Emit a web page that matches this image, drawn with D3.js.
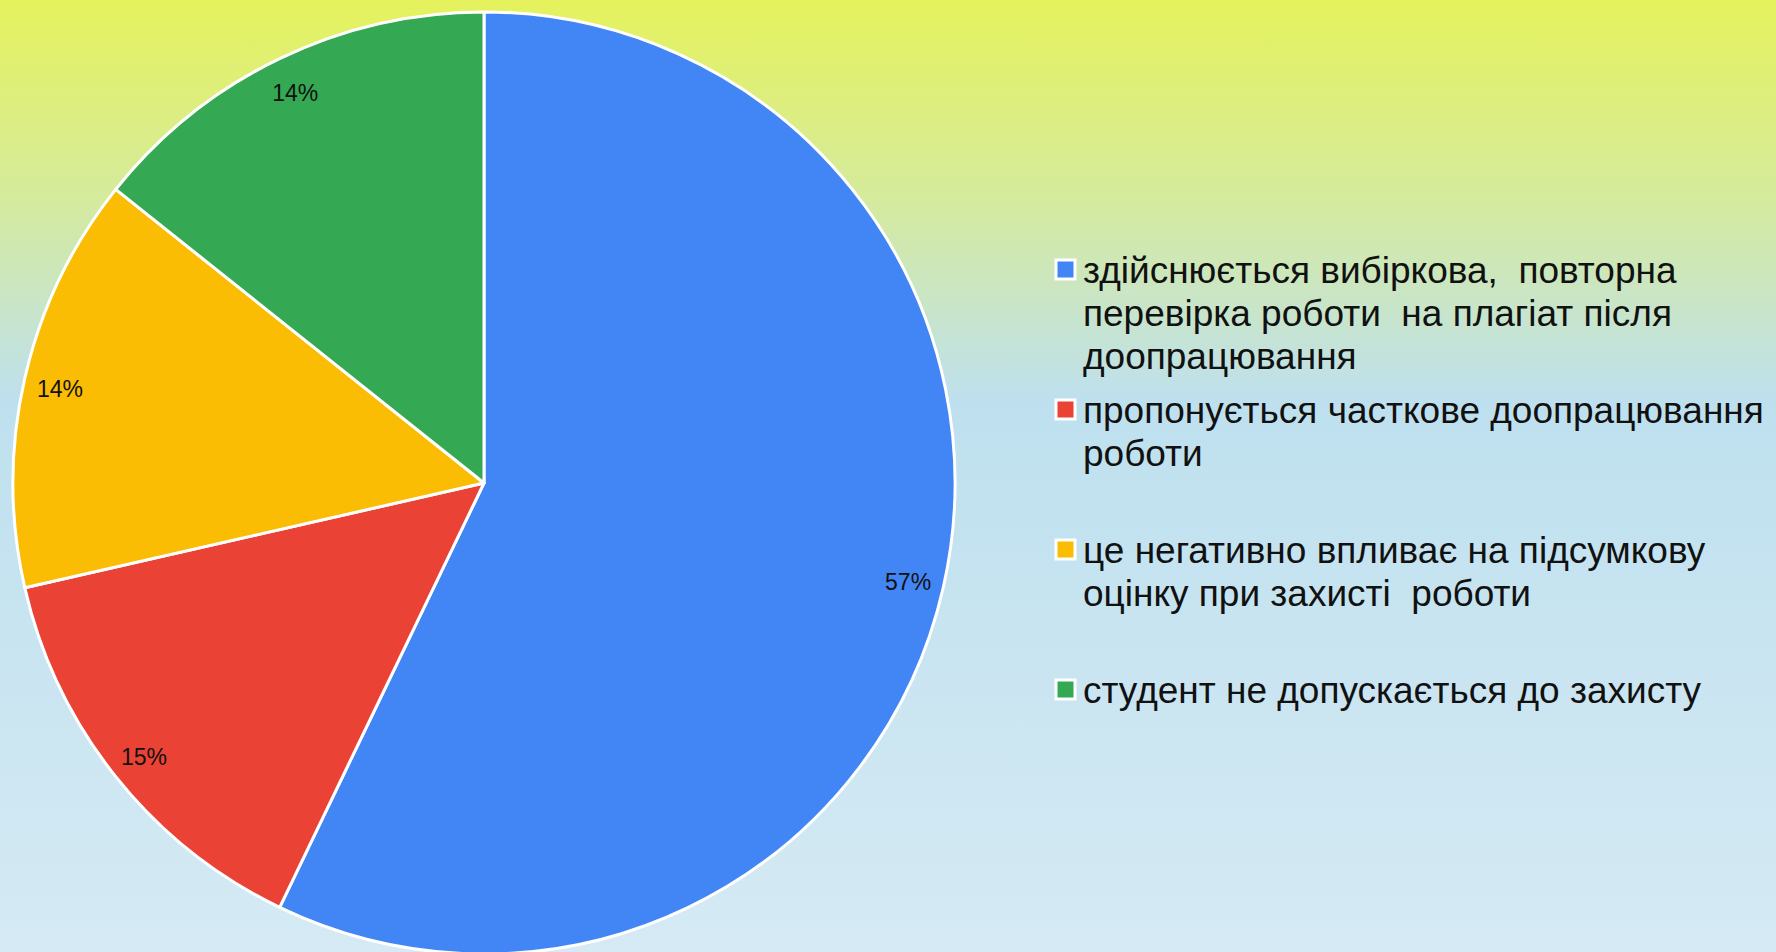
<!DOCTYPE html>
<html>
<head>
<meta charset="utf-8">
<script src="https://cdn.jsdelivr.net/npm/d3@7"></script>
<style>
  html, body { margin: 0; padding: 0; overflow: hidden; }
  svg { display: block; }
  text { font-family: "Liberation Sans", Arial, sans-serif; white-space: pre; }
</style>
</head>
<body>
<script>
const width = 1776;
const height = 952;

// respondents per answer (4 of 7, 1 of 7 ...)
const counts = [4, 1, 1, 1];
const pctLabels = ['57%', '15%', '14%', '14%'];
const colors = ['#4285f4', '#ea4335', '#fbbc04', '#34a853'];
const legendLines = [
  ['здійснюється вибіркова,  повторна', 'перевірка роботи  на плагіат після', 'доопрацювання'],
  ['пропонується часткове доопрацювання', 'роботи'],
  ['це негативно впливає на підсумкову', 'оцінку при захисті  роботи'],
  ['студент не допускається до захисту']
];

const svg = d3.select('body')
  .append('svg')
  .attr('width', width)
  .attr('height', height);

// background gradient
const defs = svg.append('defs');
const grad = defs.append('linearGradient')
  .attr('id', 'bg')
  .attr('x1', 0).attr('y1', 0)
  .attr('x2', 0).attr('y2', 1);
grad.append('stop').attr('offset', '0%').attr('stop-color', '#e5f25d');
grad.append('stop').attr('offset', '20%').attr('stop-color', '#d6eb9a');
grad.append('stop').attr('offset', '42%').attr('stop-color', '#bee0ee');
grad.append('stop').attr('offset', '100%').attr('stop-color', '#d5eaf4');

svg.append('rect')
  .attr('width', width)
  .attr('height', height)
  .attr('fill', 'url(#bg)');

const cx = 484;
const cy = 483;
const radius = 471;

const pie = d3.pie().sort(null).value(d => d);
const arc = d3.arc().innerRadius(0).outerRadius(radius);
const labelArc = d3.arc().innerRadius(435).outerRadius(435);

const g = svg.append('g')
  .attr('transform', `translate(${cx},${cy})`);

const arcs = pie(counts);

g.selectAll('path')
  .data(arcs)
  .enter().append('path')
  .attr('d', arc)
  .attr('fill', (d, i) => colors[i])
  .attr('stroke', '#fff')
  .attr('stroke-width', 3)
  .attr('stroke-linejoin', 'round');

g.selectAll('.pct')
  .data(arcs)
  .enter().append('text')
  .attr('class', 'pct')
  .attr('transform', d => `translate(${labelArc.centroid(d)})`)
  .attr('text-anchor', 'middle')
  .attr('dy', '0.45em')
  .attr('font-size', 23)
  .attr('fill', '#111')
  .text((d, i) => pctLabels[i]);

// legend
const legendX = 1055;
const firstBaseline = [283, 423, 563, 703];
const lineStep = 43;

const items = svg.append('g').selectAll('g')
  .data(legendLines)
  .enter().append('g');

items.append('rect')
  .attr('x', legendX + 1)
  .attr('y', (d, i) => firstBaseline[i] - 23)
  .attr('width', 19)
  .attr('height', 19)
  .attr('fill', (d, i) => colors[i])
  .attr('stroke', '#fff')
  .attr('stroke-width', 3);

items.each(function (lines, i) {
  const t = d3.select(this).append('text')
    .attr('x', legendX + 28)
    .attr('y', firstBaseline[i])
    .attr('font-size', 37)
    .attr('fill', '#111');
  lines.forEach((line, k) => {
    t.append('tspan')
      .attr('x', legendX + 28)
      .attr('y', firstBaseline[i] + k * lineStep)
      .text(line);
  });
});
</script>
</body>
</html>
